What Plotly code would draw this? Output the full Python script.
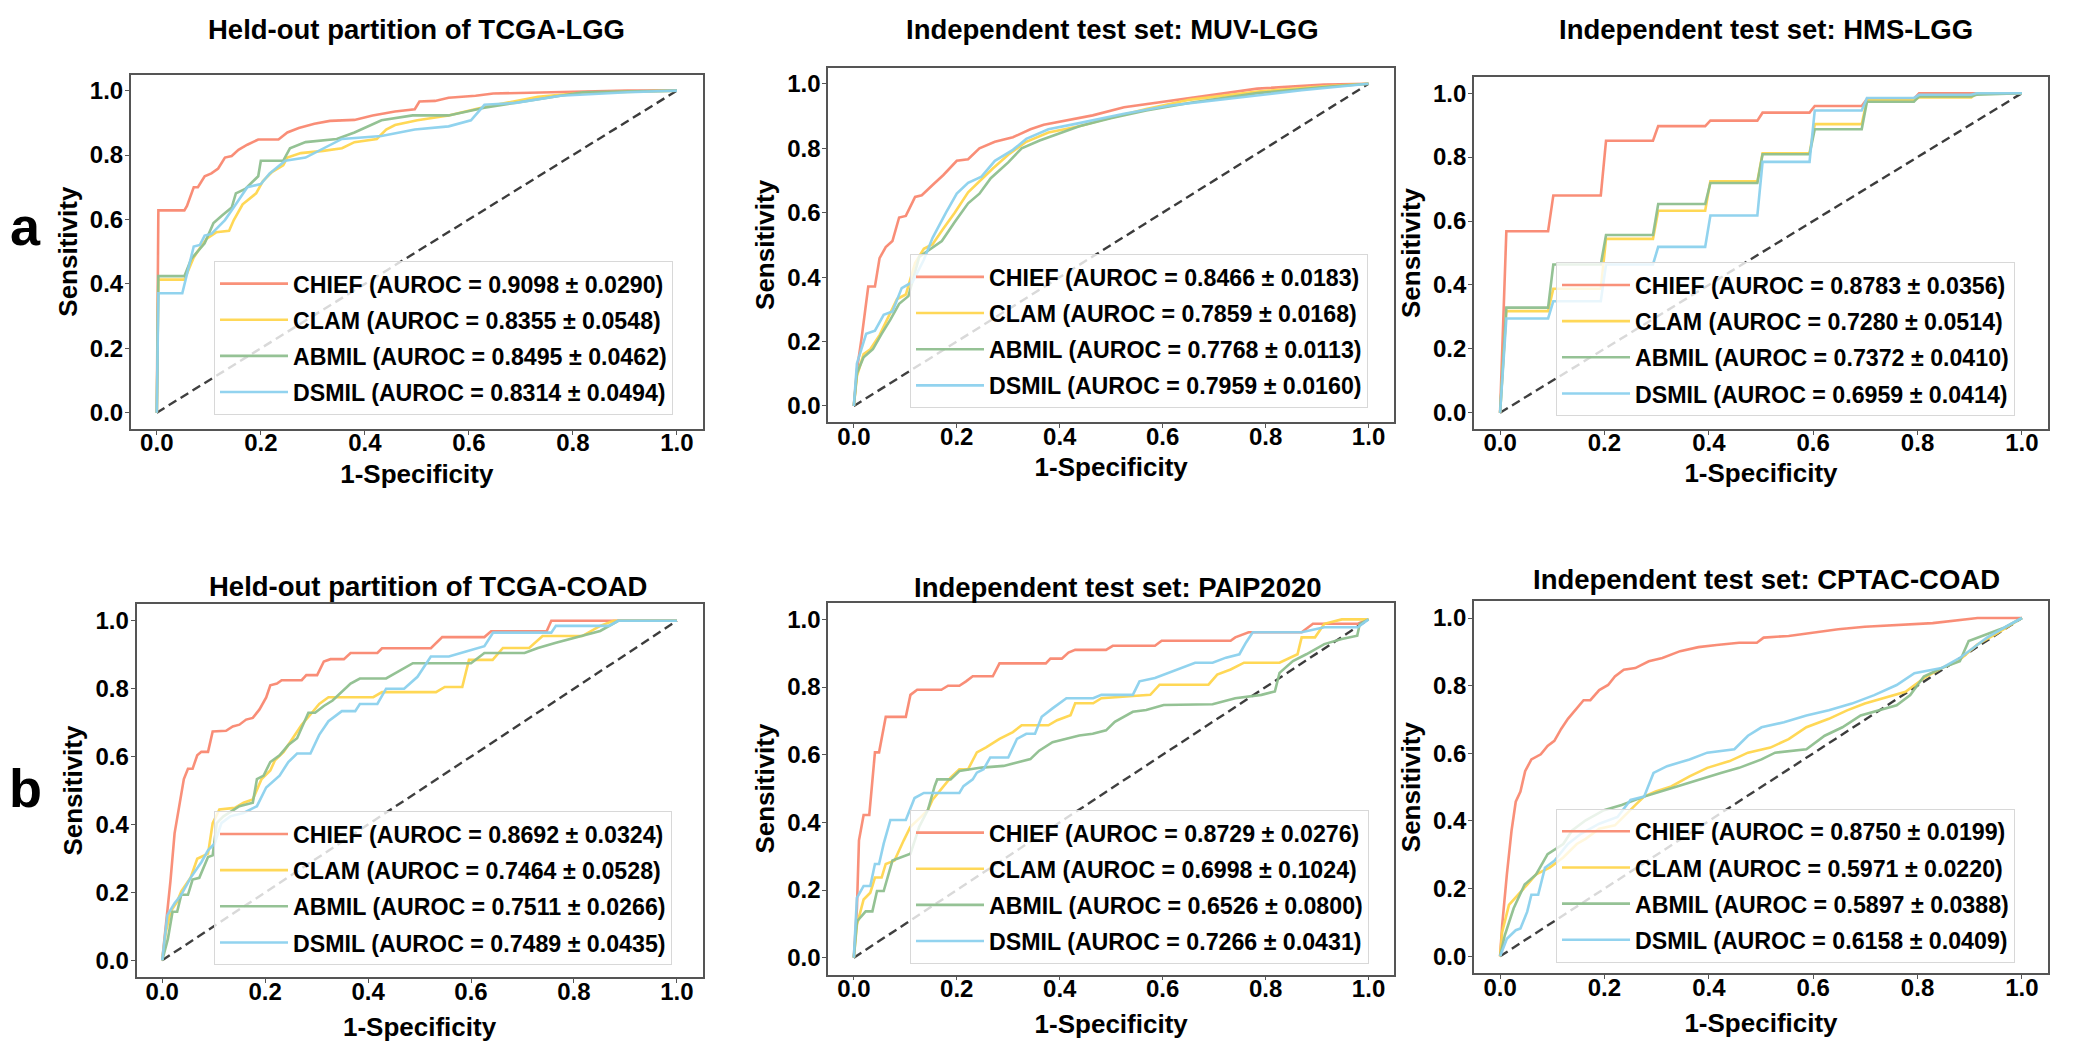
import plotly.graph_objects as go

# ---------------- data ----------------
models = ["CHIEF", "CLAM", "ABMIL", "DSMIL"]
panel_titles = [
    "Held-out partition of TCGA-LGG",
    "Independent test set: MUV-LGG",
    "Independent test set: HMS-LGG",
    "Held-out partition of TCGA-COAD",
    "Independent test set: PAIP2020",
    "Independent test set: CPTAC-COAD",
]
tick_vals = [0.0, 0.2, 0.4, 0.6, 0.8, 1.0]
tick_text = ["0.0", "0.2", "0.4", "0.6", "0.8", "1.0"]

# AUROC mean / std per panel, order: CHIEF, CLAM, ABMIL, DSMIL
auroc_tcga_lgg = [0.9098, 0.8355, 0.8495, 0.8314]
std_tcga_lgg = [0.0290, 0.0548, 0.0462, 0.0494]
auroc_muv_lgg = [0.8466, 0.7859, 0.7768, 0.7959]
std_muv_lgg = [0.0183, 0.0168, 0.0113, 0.0160]
auroc_hms_lgg = [0.8783, 0.7280, 0.7372, 0.6959]
std_hms_lgg = [0.0356, 0.0514, 0.0410, 0.0414]
auroc_tcga_coad = [0.8692, 0.7464, 0.7511, 0.7489]
std_tcga_coad = [0.0324, 0.0528, 0.0266, 0.0435]
auroc_paip = [0.8729, 0.6998, 0.6526, 0.7266]
std_paip = [0.0276, 0.1024, 0.0800, 0.0431]
auroc_cptac = [0.8750, 0.5971, 0.5897, 0.6158]
std_cptac = [0.0199, 0.0220, 0.0388, 0.0409]

# ---- panel 1: TCGA-LGG ----
tcga_lgg_chief_x = [0, 0.003, 0.053, 0.058, 0.071, 0.079, 0.092, 0.105, 0.118, 0.131, 0.144, 0.157, 0.174, 0.195, 0.234, 0.251, 0.273, 0.303, 0.333, 0.380, 0.415, 0.458, 0.496, 0.505, 0.535, 0.561, 0.613, 0.647, 0.759, 0.905, 1.0]
tcga_lgg_chief_y = [0, 0.628, 0.628, 0.642, 0.700, 0.700, 0.734, 0.743, 0.758, 0.792, 0.797, 0.816, 0.832, 0.848, 0.848, 0.870, 0.884, 0.897, 0.906, 0.909, 0.923, 0.935, 0.942, 0.966, 0.968, 0.978, 0.984, 0.991, 0.995, 1.0, 1.0]
tcga_lgg_clam_x = [0, 0.003, 0.053, 0.071, 0.083, 0.096, 0.114, 0.139, 0.148, 0.165, 0.191, 0.204, 0.222, 0.243, 0.251, 0.277, 0.320, 0.356, 0.380, 0.423, 0.441, 0.458, 0.501, 0.561, 0.630, 0.673, 0.733, 0.819, 1.0]
tcga_lgg_clam_y = [0, 0.413, 0.413, 0.482, 0.511, 0.540, 0.560, 0.565, 0.598, 0.647, 0.681, 0.719, 0.748, 0.768, 0.792, 0.806, 0.813, 0.821, 0.840, 0.850, 0.879, 0.893, 0.908, 0.923, 0.949, 0.962, 0.981, 0.993, 1.0]
tcga_lgg_abmil_x = [0, 0.003, 0.053, 0.066, 0.092, 0.109, 0.126, 0.144, 0.152, 0.170, 0.195, 0.200, 0.243, 0.256, 0.286, 0.346, 0.380, 0.432, 0.492, 0.561, 0.630, 0.690, 0.819, 1.0]
tcga_lgg_abmil_y = [0, 0.424, 0.424, 0.477, 0.526, 0.589, 0.613, 0.637, 0.681, 0.695, 0.734, 0.782, 0.782, 0.821, 0.840, 0.850, 0.870, 0.908, 0.923, 0.923, 0.947, 0.962, 0.995, 1.0]
tcga_lgg_dsmil_x = [0, 0.003, 0.049, 0.071, 0.083, 0.092, 0.105, 0.131, 0.152, 0.174, 0.200, 0.217, 0.247, 0.286, 0.356, 0.432, 0.496, 0.561, 0.604, 0.630, 0.690, 0.776, 0.905, 1.0]
tcga_lgg_dsmil_y = [0, 0.371, 0.371, 0.516, 0.521, 0.550, 0.555, 0.598, 0.647, 0.700, 0.710, 0.743, 0.782, 0.792, 0.850, 0.859, 0.879, 0.889, 0.908, 0.956, 0.962, 0.984, 0.995, 1.0]

# ---- panel 2: MUV-LGG ----
muv_lgg_chief_x = [0, 0.006, 0.015, 0.028, 0.041, 0.050, 0.062, 0.075, 0.088, 0.101, 0.119, 0.132, 0.153, 0.174, 0.200, 0.222, 0.244, 0.274, 0.309, 0.343, 0.369, 0.422, 0.464, 0.525, 0.611, 0.698, 0.784, 0.914, 1.0]
muv_lgg_chief_y = [0, 0.112, 0.210, 0.371, 0.371, 0.459, 0.493, 0.512, 0.585, 0.590, 0.649, 0.654, 0.686, 0.717, 0.761, 0.766, 0.800, 0.820, 0.834, 0.859, 0.873, 0.888, 0.902, 0.927, 0.946, 0.966, 0.985, 0.998, 1.0]
muv_lgg_clam_x = [0, 0.006, 0.019, 0.032, 0.050, 0.067, 0.084, 0.101, 0.119, 0.136, 0.153, 0.174, 0.196, 0.222, 0.244, 0.270, 0.300, 0.335, 0.378, 0.438, 0.482, 0.568, 0.654, 0.784, 0.914, 1.0]
muv_lgg_clam_y = [0, 0.093, 0.161, 0.176, 0.220, 0.278, 0.332, 0.346, 0.444, 0.488, 0.502, 0.551, 0.600, 0.663, 0.698, 0.737, 0.780, 0.820, 0.849, 0.868, 0.888, 0.922, 0.951, 0.976, 0.992, 1.0]
muv_lgg_abmil_x = [0, 0.006, 0.019, 0.037, 0.054, 0.071, 0.088, 0.106, 0.127, 0.145, 0.171, 0.196, 0.222, 0.244, 0.266, 0.300, 0.326, 0.361, 0.395, 0.438, 0.499, 0.568, 0.654, 0.784, 0.914, 1.0]
muv_lgg_abmil_y = [0, 0.102, 0.151, 0.176, 0.224, 0.268, 0.317, 0.341, 0.463, 0.483, 0.512, 0.571, 0.629, 0.659, 0.707, 0.756, 0.800, 0.824, 0.844, 0.868, 0.893, 0.917, 0.941, 0.971, 0.990, 1.0]
muv_lgg_dsmil_x = [0, 0.006, 0.024, 0.041, 0.058, 0.075, 0.093, 0.114, 0.136, 0.153, 0.179, 0.200, 0.222, 0.248, 0.274, 0.309, 0.335, 0.378, 0.438, 0.525, 0.611, 0.741, 0.870, 1.0]
muv_lgg_dsmil_y = [0, 0.132, 0.224, 0.234, 0.283, 0.293, 0.366, 0.385, 0.454, 0.522, 0.600, 0.659, 0.693, 0.712, 0.761, 0.795, 0.829, 0.859, 0.878, 0.907, 0.932, 0.956, 0.980, 1.0]

# ---- panel 3: HMS-LGG (stepwise) ----
hms_lgg_chief_x = [0, 0.012, 0.092, 0.102, 0.193, 0.203, 0.293, 0.303, 0.393, 0.403, 0.493, 0.503, 0.593, 0.603, 0.693, 0.703, 0.793, 0.803, 1.0]
hms_lgg_chief_y = [0, 0.568, 0.568, 0.680, 0.680, 0.851, 0.851, 0.897, 0.897, 0.914, 0.914, 0.939, 0.939, 0.960, 0.960, 0.982, 0.982, 1.0, 1.0]
hms_lgg_clam_x = [0, 0.012, 0.092, 0.102, 0.193, 0.203, 0.293, 0.303, 0.393, 0.403, 0.493, 0.503, 0.593, 0.603, 0.693, 0.703, 0.793, 0.803, 0.903, 0.913, 1.0]
hms_lgg_clam_y = [0, 0.318, 0.318, 0.388, 0.388, 0.544, 0.544, 0.632, 0.632, 0.724, 0.724, 0.812, 0.812, 0.903, 0.903, 0.978, 0.978, 0.987, 0.987, 1.0, 1.0]
hms_lgg_abmil_x = [0, 0.012, 0.092, 0.102, 0.193, 0.203, 0.293, 0.303, 0.393, 0.403, 0.493, 0.503, 0.593, 0.603, 0.693, 0.703, 0.793, 0.803, 0.903, 0.913, 1.0]
hms_lgg_abmil_y = [0, 0.329, 0.329, 0.464, 0.464, 0.556, 0.556, 0.653, 0.653, 0.719, 0.719, 0.809, 0.809, 0.887, 0.887, 0.973, 0.973, 0.990, 0.990, 0.995, 1.0]
hms_lgg_dsmil_x = [0, 0.012, 0.092, 0.102, 0.193, 0.203, 0.293, 0.303, 0.393, 0.403, 0.493, 0.503, 0.593, 0.603, 0.693, 0.703, 0.793, 0.803, 0.903, 0.913, 1.0]
hms_lgg_dsmil_y = [0, 0.295, 0.295, 0.349, 0.349, 0.464, 0.464, 0.519, 0.519, 0.617, 0.617, 0.785, 0.785, 0.946, 0.946, 0.985, 0.985, 0.995, 0.995, 1.0, 1.0]

# ---- panel 4: TCGA-COAD ----
tcga_coad_chief_x = [0, 0.007, 0.016, 0.024, 0.033, 0.042, 0.050, 0.059, 0.068, 0.076, 0.089, 0.098, 0.124, 0.137, 0.150, 0.163, 0.176, 0.189, 0.202, 0.210, 0.223, 0.232, 0.271, 0.280, 0.301, 0.314, 0.327, 0.353, 0.366, 0.418, 0.427, 0.522, 0.544, 0.626, 0.639, 0.747, 0.756, 1.0]
tcga_coad_chief_y = [0, 0.103, 0.234, 0.374, 0.454, 0.534, 0.564, 0.564, 0.604, 0.614, 0.614, 0.674, 0.676, 0.689, 0.694, 0.709, 0.714, 0.739, 0.774, 0.810, 0.815, 0.825, 0.825, 0.840, 0.840, 0.880, 0.887, 0.887, 0.905, 0.905, 0.919, 0.919, 0.952, 0.952, 0.969, 0.969, 1.0, 1.0]
tcga_coad_clam_x = [0, 0.007, 0.016, 0.029, 0.037, 0.055, 0.068, 0.089, 0.098, 0.111, 0.141, 0.158, 0.176, 0.184, 0.193, 0.210, 0.219, 0.236, 0.253, 0.271, 0.288, 0.305, 0.323, 0.410, 0.427, 0.532, 0.549, 0.583, 0.596, 0.642, 0.662, 0.713, 0.739, 0.816, 0.851, 0.877, 1.0]
tcga_coad_clam_y = [0, 0.083, 0.143, 0.173, 0.203, 0.243, 0.299, 0.314, 0.404, 0.444, 0.449, 0.464, 0.474, 0.504, 0.534, 0.559, 0.589, 0.614, 0.654, 0.694, 0.724, 0.755, 0.775, 0.775, 0.790, 0.790, 0.805, 0.805, 0.885, 0.885, 0.920, 0.920, 0.955, 0.955, 0.985, 1.0, 1.0]
tcga_coad_abmil_x = [0, 0.011, 0.020, 0.029, 0.037, 0.050, 0.059, 0.072, 0.089, 0.098, 0.106, 0.119, 0.150, 0.176, 0.184, 0.197, 0.210, 0.228, 0.245, 0.262, 0.284, 0.297, 0.314, 0.331, 0.366, 0.384, 0.435, 0.453, 0.470, 0.487, 0.600, 0.626, 0.704, 0.730, 0.765, 0.816, 0.851, 0.886, 1.0]
tcga_coad_abmil_y = [0, 0.063, 0.143, 0.143, 0.193, 0.193, 0.238, 0.243, 0.304, 0.309, 0.404, 0.424, 0.454, 0.464, 0.534, 0.544, 0.584, 0.604, 0.634, 0.654, 0.729, 0.729, 0.749, 0.765, 0.815, 0.830, 0.830, 0.845, 0.860, 0.875, 0.875, 0.905, 0.905, 0.920, 0.935, 0.955, 0.970, 1.0, 1.0]
tcga_coad_dsmil_x = [0, 0.010, 0.024, 0.037, 0.055, 0.076, 0.089, 0.102, 0.115, 0.132, 0.158, 0.184, 0.202, 0.228, 0.245, 0.262, 0.288, 0.305, 0.323, 0.349, 0.375, 0.384, 0.418, 0.435, 0.470, 0.496, 0.522, 0.557, 0.592, 0.626, 0.643, 0.756, 0.765, 0.868, 0.886, 1.0]
tcga_coad_dsmil_y = [0, 0.133, 0.168, 0.193, 0.243, 0.289, 0.324, 0.344, 0.404, 0.424, 0.434, 0.454, 0.509, 0.544, 0.584, 0.609, 0.609, 0.664, 0.704, 0.734, 0.734, 0.755, 0.755, 0.800, 0.800, 0.835, 0.895, 0.895, 0.910, 0.925, 0.965, 0.965, 0.985, 0.985, 1.0, 1.0]

# ---- panel 5: PAIP2020 ----
paip_chief_x = [0, 0.006, 0.010, 0.019, 0.030, 0.041, 0.049, 0.062, 0.101, 0.110, 0.123, 0.170, 0.183, 0.205, 0.218, 0.231, 0.270, 0.283, 0.373, 0.382, 0.404, 0.417, 0.430, 0.490, 0.503, 0.585, 0.598, 0.732, 0.741, 0.767, 0.870, 0.892, 0.979, 1.0]
paip_chief_y = [0, 0.147, 0.347, 0.422, 0.422, 0.607, 0.607, 0.712, 0.712, 0.777, 0.792, 0.792, 0.804, 0.804, 0.817, 0.832, 0.832, 0.870, 0.870, 0.884, 0.884, 0.902, 0.910, 0.910, 0.922, 0.922, 0.937, 0.937, 0.947, 0.962, 0.962, 0.987, 0.987, 1.0]
paip_clam_x = [0, 0.006, 0.019, 0.032, 0.041, 0.054, 0.062, 0.079, 0.097, 0.110, 0.131, 0.144, 0.153, 0.175, 0.188, 0.205, 0.222, 0.239, 0.257, 0.283, 0.309, 0.326, 0.378, 0.395, 0.421, 0.430, 0.465, 0.481, 0.533, 0.576, 0.594, 0.689, 0.706, 0.732, 0.758, 0.827, 0.862, 0.870, 0.896, 0.914, 0.948, 1.0]
paip_clam_y = [0, 0.097, 0.172, 0.192, 0.237, 0.237, 0.277, 0.287, 0.347, 0.387, 0.417, 0.437, 0.467, 0.507, 0.532, 0.557, 0.557, 0.607, 0.622, 0.647, 0.667, 0.687, 0.687, 0.702, 0.717, 0.752, 0.752, 0.767, 0.772, 0.777, 0.807, 0.807, 0.837, 0.852, 0.872, 0.872, 0.897, 0.947, 0.947, 0.987, 1.0, 1.0]
paip_abmil_x = [0, 0.006, 0.023, 0.036, 0.045, 0.058, 0.075, 0.092, 0.110, 0.127, 0.144, 0.157, 0.162, 0.188, 0.205, 0.248, 0.291, 0.317, 0.343, 0.360, 0.386, 0.438, 0.464, 0.490, 0.507, 0.542, 0.568, 0.602, 0.697, 0.741, 0.792, 0.818, 0.827, 0.853, 0.879, 0.914, 0.948, 0.978, 0.983, 1.0]
paip_abmil_y = [0, 0.107, 0.137, 0.137, 0.197, 0.197, 0.287, 0.297, 0.307, 0.387, 0.437, 0.507, 0.527, 0.527, 0.552, 0.562, 0.567, 0.577, 0.587, 0.612, 0.637, 0.657, 0.662, 0.672, 0.697, 0.727, 0.732, 0.747, 0.749, 0.767, 0.777, 0.787, 0.842, 0.877, 0.897, 0.927, 0.942, 0.952, 0.987, 1.0]
paip_dsmil_x = [0, 0.006, 0.019, 0.032, 0.041, 0.049, 0.058, 0.071, 0.101, 0.118, 0.136, 0.205, 0.213, 0.231, 0.239, 0.252, 0.265, 0.300, 0.317, 0.335, 0.352, 0.365, 0.386, 0.404, 0.413, 0.465, 0.481, 0.542, 0.555, 0.585, 0.611, 0.637, 0.663, 0.697, 0.723, 0.749, 0.762, 0.775, 0.870, 0.914, 0.979, 1.0]
paip_dsmil_y = [0, 0.177, 0.212, 0.212, 0.277, 0.277, 0.337, 0.407, 0.407, 0.472, 0.487, 0.487, 0.507, 0.527, 0.547, 0.557, 0.592, 0.592, 0.647, 0.662, 0.662, 0.712, 0.737, 0.757, 0.767, 0.767, 0.777, 0.777, 0.817, 0.827, 0.842, 0.857, 0.872, 0.872, 0.887, 0.897, 0.932, 0.962, 0.962, 0.977, 0.977, 1.0]

# ---- panel 6: CPTAC-COAD ----
cptac_chief_x = [0, 0.004, 0.013, 0.022, 0.030, 0.039, 0.048, 0.060, 0.078, 0.091, 0.104, 0.117, 0.130, 0.147, 0.160, 0.173, 0.190, 0.207, 0.220, 0.237, 0.259, 0.285, 0.311, 0.345, 0.380, 0.415, 0.458, 0.492, 0.505, 0.553, 0.596, 0.648, 0.699, 0.760, 0.829, 0.915, 1.0]
cptac_chief_y = [0, 0.092, 0.242, 0.372, 0.457, 0.487, 0.547, 0.582, 0.597, 0.622, 0.637, 0.672, 0.702, 0.732, 0.757, 0.757, 0.787, 0.802, 0.827, 0.847, 0.852, 0.872, 0.882, 0.902, 0.914, 0.920, 0.927, 0.927, 0.942, 0.947, 0.957, 0.967, 0.974, 0.979, 0.985, 1.0, 1.0]
cptac_clam_x = [0, 0.004, 0.017, 0.035, 0.052, 0.069, 0.095, 0.121, 0.147, 0.164, 0.190, 0.220, 0.242, 0.259, 0.276, 0.298, 0.328, 0.363, 0.397, 0.440, 0.475, 0.518, 0.553, 0.587, 0.630, 0.665, 0.699, 0.742, 0.777, 0.812, 0.846, 0.881, 0.915, 0.950, 1.0]
cptac_clam_y = [0, 0.072, 0.152, 0.182, 0.212, 0.242, 0.262, 0.292, 0.332, 0.347, 0.377, 0.387, 0.422, 0.447, 0.472, 0.487, 0.502, 0.532, 0.557, 0.577, 0.602, 0.617, 0.642, 0.677, 0.702, 0.727, 0.747, 0.767, 0.782, 0.822, 0.852, 0.877, 0.922, 0.952, 1.0]
cptac_abmil_x = [0, 0.009, 0.026, 0.047, 0.069, 0.091, 0.121, 0.138, 0.164, 0.199, 0.233, 0.276, 0.328, 0.380, 0.423, 0.458, 0.501, 0.527, 0.587, 0.622, 0.656, 0.691, 0.725, 0.760, 0.786, 0.812, 0.846, 0.881, 0.898, 0.933, 0.967, 1.0]
cptac_abmil_y = [0, 0.062, 0.142, 0.212, 0.242, 0.302, 0.332, 0.372, 0.402, 0.432, 0.447, 0.472, 0.497, 0.522, 0.542, 0.557, 0.582, 0.602, 0.612, 0.652, 0.677, 0.712, 0.727, 0.742, 0.772, 0.827, 0.852, 0.872, 0.932, 0.952, 0.972, 1.0]
cptac_dsmil_x = [0, 0.013, 0.030, 0.039, 0.052, 0.060, 0.073, 0.086, 0.104, 0.130, 0.155, 0.190, 0.225, 0.250, 0.276, 0.294, 0.320, 0.363, 0.397, 0.449, 0.475, 0.501, 0.544, 0.587, 0.630, 0.674, 0.717, 0.760, 0.794, 0.846, 0.881, 0.933, 0.967, 1.0]
cptac_dsmil_y = [0, 0.052, 0.077, 0.082, 0.132, 0.182, 0.182, 0.262, 0.282, 0.332, 0.362, 0.392, 0.412, 0.462, 0.472, 0.542, 0.562, 0.582, 0.602, 0.612, 0.652, 0.677, 0.692, 0.712, 0.727, 0.747, 0.772, 0.802, 0.837, 0.852, 0.882, 0.942, 0.972, 1.0]

# ---------------- assemble ----------------
panels = [
    ([tcga_lgg_chief_x, tcga_lgg_clam_x, tcga_lgg_abmil_x, tcga_lgg_dsmil_x],
     [tcga_lgg_chief_y, tcga_lgg_clam_y, tcga_lgg_abmil_y, tcga_lgg_dsmil_y], auroc_tcga_lgg, std_tcga_lgg),
    ([muv_lgg_chief_x, muv_lgg_clam_x, muv_lgg_abmil_x, muv_lgg_dsmil_x],
     [muv_lgg_chief_y, muv_lgg_clam_y, muv_lgg_abmil_y, muv_lgg_dsmil_y], auroc_muv_lgg, std_muv_lgg),
    ([hms_lgg_chief_x, hms_lgg_clam_x, hms_lgg_abmil_x, hms_lgg_dsmil_x],
     [hms_lgg_chief_y, hms_lgg_clam_y, hms_lgg_abmil_y, hms_lgg_dsmil_y], auroc_hms_lgg, std_hms_lgg),
    ([tcga_coad_chief_x, tcga_coad_clam_x, tcga_coad_abmil_x, tcga_coad_dsmil_x],
     [tcga_coad_chief_y, tcga_coad_clam_y, tcga_coad_abmil_y, tcga_coad_dsmil_y], auroc_tcga_coad, std_tcga_coad),
    ([paip_chief_x, paip_clam_x, paip_abmil_x, paip_dsmil_x],
     [paip_chief_y, paip_clam_y, paip_abmil_y, paip_dsmil_y], auroc_paip, std_paip),
    ([cptac_chief_x, cptac_clam_x, cptac_abmil_x, cptac_dsmil_x],
     [cptac_chief_y, cptac_clam_y, cptac_abmil_y, cptac_dsmil_y], auroc_cptac, std_cptac),
]

W, H = 2100, 1057
FONT = "Liberation Sans, Arial, Helvetica, sans-serif"
colors = ["#F98B73", "#FFD64F", "#8FBF8F", "#8CD1EE"]

# pixel geometry (left, top, right, bottom) of each axes box
boxes = [
    (122.8, 66.5, 694.9, 420.8),
    (820.1, 59.7, 1386.3, 414.1),
    (1466.0, 69.2, 2040.0, 420.7),
    (128.5, 595.8, 694.6, 969.3),
    (820.1, 594.5, 1386.3, 966.6),
    (1466.0, 593.1, 2040.0, 965.2),
]
legend_pos = [(206, 253), (902, 246.3), (1548, 254.4), (206, 803.4), (902, 802), (1548, 800.7)]
title_pos = [(408, 22), (1104, 22), (1758, 22), (420, 578), (1110, 579), (1758, 571)]
xtitle_standoff = [9, 9, 9, 14, 14, 14]

fig = go.Figure()
layout = dict(
    width=W, height=H, margin=dict(l=0, r=0, t=0, b=0),
    paper_bgcolor="white", plot_bgcolor="white",
    font=dict(family=FONT, color="black"),
    annotations=[],
)

for i, (xs, ys, au, sd) in enumerate(panels):
    n = "" if i == 0 else str(i + 1)
    xa, ya = "x" + n, "y" + n
    leg = "legend" + n
    # diagonal reference
    fig.add_trace(go.Scatter(x=[0, 1], y=[0, 1], mode="lines", xaxis=xa, yaxis=ya,
                             line=dict(color="rgba(30,30,30,0.85)", width=2.4, dash="9px,5px"),
                             showlegend=False, hoverinfo="skip"))
    for k, m in enumerate(models):
        fig.add_trace(go.Scatter(
            x=xs[k], y=ys[k], mode="lines", xaxis=xa, yaxis=ya,
            line=dict(color=colors[k], width=2.6), opacity=0.95,
            name=f"{m} (AUROC = {au[k]:.4f} \u00b1 {sd[k]:.4f})",
            legend=leg, legendgroup=f"{i}-{m}",
        ))
    l, t, r, b = boxes[i]
    axis_common = dict(
        range=[-0.05, 1.05], tickvals=tick_vals, ticktext=tick_text,
        showline=True, mirror=True, linecolor="#555555", linewidth=1.6,
        ticks="outside", ticklen=4, tickwidth=1.4, tickcolor="#555555",
        showgrid=False, zeroline=False,
        tickfont=dict(family=FONT, size=24, color="black", weight="bold"),
    )
    layout["xaxis" + n] = dict(axis_common, domain=[l / W, r / W], anchor=ya,
                               ticklabelstandoff=-12,
                               title=dict(text="1-Specificity", standoff=xtitle_standoff[i],
                                          font=dict(family=FONT, size=26, weight="bold")))
    layout["yaxis" + n] = dict(axis_common, domain=[1 - b / H, 1 - t / H], anchor=xa,
                               ticklabelstandoff=-3,
                               title=dict(text="Sensitivity", standoff=5,
                                          font=dict(family=FONT, size=26, weight="bold")))
    lx, ly = legend_pos[i]
    layout[leg] = dict(
        x=lx / W, y=1 - ly / H, xanchor="left", yanchor="top",
        bgcolor="rgba(255,255,255,0.8)", bordercolor="#D8D8D8", borderwidth=1,
        font=dict(family=FONT, size=23.2, color="black", weight="bold"),
        itemwidth=68, tracegroupgap=3, entrywidth=430,
    )
    tx, ty = title_pos[i]
    layout["annotations"].append(dict(
        text=panel_titles[i], x=tx / W, y=1 - ty / H, xref="paper", yref="paper",
        xanchor="center", yanchor="middle", showarrow=False,
        font=dict(family=FONT, size=27.5, color="black", weight="bold")))

for lab, (px, py) in [("a", (17, 218)), ("b", (17, 780))]:
    layout["annotations"].append(dict(
        text=lab, x=px / W, y=1 - py / H, xref="paper", yref="paper",
        xanchor="center", yanchor="middle", showarrow=False,
        font=dict(family=FONT, size=54, color="black", weight="bold")))

fig.update_layout(**layout)
fig.write_html("out.html")
